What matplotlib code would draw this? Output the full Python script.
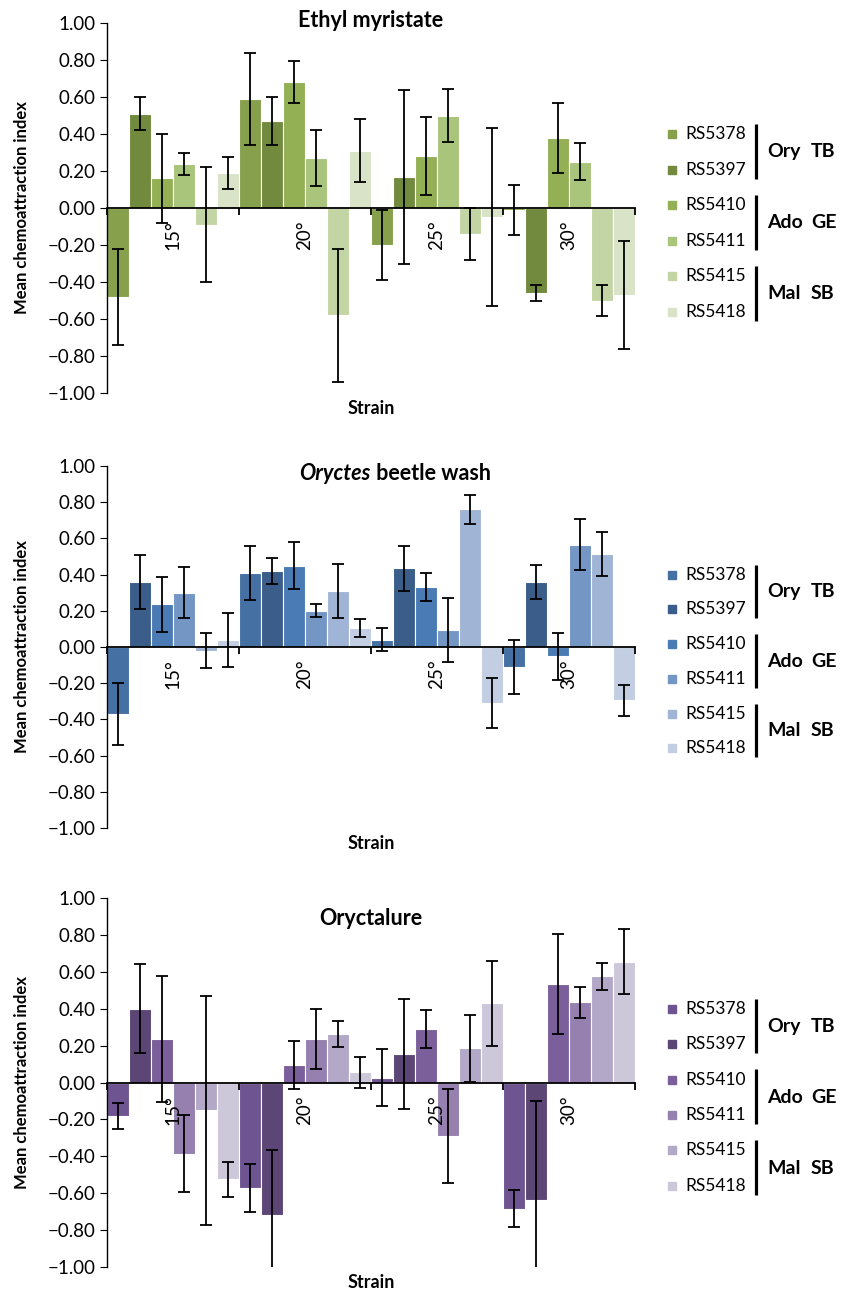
import matplotlib
matplotlib.use("Agg")
import matplotlib.pyplot as plt
import matplotlib.transforms as mtransforms
from matplotlib.patches import Rectangle
from matplotlib.ticker import FuncFormatter
import numpy as np

plt.rcParams['font.family'] = ['Lato', 'DejaVu Sans']

strains = ['RS5378', 'RS5397', 'RS5410', 'RS5411', 'RS5415', 'RS5418']
temps = ['15°', '20°', '25°', '30°']
groups = [('Ory', 'TB'), ('Ado', 'GE'), ('Mal', 'SB')]

# bar order: for each temperature, the six strains
ethyl_mean = [-0.48, 0.51, 0.16, 0.24, -0.09, 0.19,
              0.59, 0.47, 0.68, 0.27, -0.58, 0.31,
              -0.20, 0.17, 0.28, 0.50, -0.14, -0.05,
              -0.01, -0.46, 0.38, 0.25, -0.50, -0.47]
ethyl_err = [0.26, 0.09, 0.24, 0.06, 0.31, 0.085,
             0.25, 0.13, 0.115, 0.15, 0.36, 0.17,
             0.19, 0.47, 0.21, 0.145, 0.14, 0.48,
             0.135, 0.045, 0.19, 0.10, 0.083, 0.29]

wash_mean = [-0.37, 0.36, 0.235, 0.30, -0.02, 0.04,
             0.41, 0.42, 0.45, 0.20, 0.31, 0.105,
             0.04, 0.435, 0.33, 0.095, 0.76, -0.31,
             -0.11, 0.36, -0.05, 0.565, 0.515, -0.295]
wash_err = [0.17, 0.15, 0.15, 0.14, 0.095, 0.15,
            0.15, 0.07, 0.13, 0.037, 0.15, 0.048,
            0.063, 0.125, 0.077, 0.176, 0.078, 0.14,
            0.147, 0.094, 0.13, 0.14, 0.12, 0.086]

lure_mean = [-0.18, 0.40, 0.235, -0.385, -0.15, -0.525,
             -0.57, -0.72, 0.095, 0.235, 0.265, 0.055,
             0.025, 0.155, 0.29, -0.29, 0.185, 0.43,
             -0.685, -0.635, 0.535, 0.435, 0.575, 0.655]
lure_err = [0.07, 0.24, 0.34, 0.21, 0.62, 0.093,
            0.13, 0.354, 0.13, 0.163, 0.071, 0.083,
            0.155, 0.30, 0.104, 0.257, 0.18, 0.23,
            0.10, 0.534, 0.27, 0.085, 0.075, 0.175]

greens = ['#86a04b', '#718a3d', '#93b055', '#a9c47b', '#c3d5a4', '#d8e3c7']
blues = ['#4470a4', '#3a5d8a', '#4a7bb4', '#7396c5', '#a0b4d5', '#c3cee3']
purples = ['#6e5490', '#5c4675', '#7b5f9b', '#9580b0', '#b3a8c7', '#cdc7da']

W, H = 851, 1291
fig = plt.figure(figsize=(W / 100, H / 100), dpi=100)

# (top px, bottom px, title y in axes frac)
panels = [
    (23, 393, 1.008, ethyl_mean, ethyl_err, greens, 'ethyl'),
    (466, 828, 0.98, wash_mean, wash_err, blues, 'wash'),
    (898, 1267, 0.945, lure_mean, lure_err, purples, 'lure'),
]

left_px, right_px = 107, 635


def fmt(v, p):
    v = round(v, 2)
    if v == 0:
        v = 0.0
    return f"{v:.2f}".replace('-', '\u2212')


for top, bot, ty, mean, err, cols, name in panels:
    ax = fig.add_axes([left_px / W, (H - bot) / H, (right_px - left_px) / W, (bot - top) / H])
    x = np.arange(len(mean)) + 0.5
    colors = [cols[i % 6] for i in range(len(mean))]
    ax.bar(x, mean, width=1.0, color=colors, edgecolor='white', linewidth=0.8, zorder=1)
    ax.errorbar(x, mean, yerr=err, fmt='none', ecolor='black', elinewidth=1.3,
                capsize=4, capthick=1.3, zorder=3)
    ax.set_xlim(0, 24)
    ax.set_ylim(-1, 1)
    ax.spines['top'].set_visible(False)
    ax.spines['right'].set_visible(False)
    ax.spines['bottom'].set_position(('data', 0))
    ax.spines['bottom'].set_zorder(2.5)
    ax.spines['left'].set_linewidth(1.0)
    ax.spines['bottom'].set_linewidth(1.3)
    ax.set_yticks(np.round(np.arange(-1, 1.01, 0.2), 2))
    ax.yaxis.set_major_formatter(FuncFormatter(fmt))
    ax.tick_params(axis='y', direction='out', length=5, labelsize=13.5, pad=3)
    ax.set_xticks([3, 9, 15, 21])
    ax.set_xticklabels(temps, rotation=90, fontsize=13.5)
    ax.set_xticks([0, 6, 12, 18, 24], minor=True)
    ax.tick_params(axis='x', which='major', length=0, pad=9)
    ax.tick_params(axis='x', which='minor', length=5, width=1.3, direction='out')

    # title
    if name == 'wash':
        ax.text(0.5, ty, 'Oryctes', transform=ax.transAxes, ha='right', va='center',
                fontsize=15.5, fontweight='bold', fontstyle='italic')
        ax.text(0.5, ty, ' beetle wash', transform=ax.transAxes, ha='left', va='center',
                fontsize=15.5, fontweight='bold')
    else:
        title = 'Ethyl myristate' if name == 'ethyl' else 'Oryctalure'
        ax.text(0.5, ty, title, transform=ax.transAxes, ha='center', va='center',
                fontsize=15.5, fontweight='bold')
    ax.text(0.5, -0.043, 'Strain', transform=ax.transAxes, ha='center', va='center',
            fontsize=13, fontweight='bold')

    # y label
    yc = (top + bot) / 2
    fig.text(22 / W, 1 - yc / H, 'Mean chemoattraction index', rotation=90,
             ha='center', va='center', fontsize=12, fontweight='bold')

    # legend with brackets
    tr = mtransforms.blended_transform_factory(ax.transAxes, ax.transData)
    rows = [0.40 - 0.192 * i for i in range(6)]
    sq_w = 8 / (right_px - left_px)
    sq_h = 8 / ((bot - top) / 2)
    for i, s in enumerate(strains):
        ax.add_patch(Rectangle((1.070 - sq_w / 2, rows[i] - sq_h / 2), sq_w, sq_h,
                               transform=tr, color=cols[i], clip_on=False))
        ax.text(1.096, rows[i], s, transform=tr, ha='left', va='center', fontsize=12.5)
    for g, (a, b) in enumerate(groups):
        ya, yb = rows[2 * g], rows[2 * g + 1]
        ax.plot([1.229, 1.229], [ya + 0.055, yb - 0.05], transform=tr, color='black',
                lw=2.3, clip_on=False, solid_capstyle='butt')
        ax.text(1.251, (ya + yb) / 2, a, transform=tr, ha='left', va='center',
                fontsize=14, fontweight='bold')
        ax.text(1.333, (ya + yb) / 2, b, transform=tr, ha='left', va='center',
                fontsize=14, fontweight='bold')

plt.savefig('out.png', dpi=100)
